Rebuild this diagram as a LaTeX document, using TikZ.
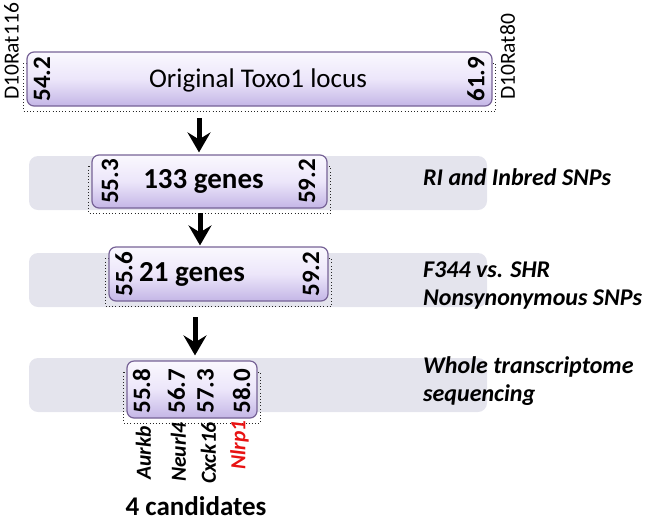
\documentclass[tikz,border=0pt]{standalone}
\usepackage{fontspec}
\setmainfont{Carlito}
\usetikzlibrary{arrows.meta}
\pgfdeclarelayer{bg}
\pgfsetlayers{bg,main}
\definecolor{bandgray}{RGB}{228,228,237}
\definecolor{boxedge}{RGB}{118,98,150}
\definecolor{boxtop}{RGB}{250,248,254}
\definecolor{boxmid}{RGB}{236,230,250}
\definecolor{boxbot}{RGB}{196,182,230}
\definecolor{genered}{RGB}{232,18,18}
\tikzset{
  bandbg/.style={fill=bandgray, rounded corners=9pt, draw=none, inner sep=0pt, minimum width=458pt, minimum height=54pt},
  locusbox/.style={draw=boxedge, line width=1.2pt, rounded corners=7pt, top color=boxtop, bottom color=boxbot, middle color=boxmid, inner sep=0pt},
  shadowdots/.style={draw=black!85, line width=1.1pt, dash pattern=on 0.8pt off 2.4pt},
  mbnum/.style={rotate=90, font=\fontsize{25}{28}\selectfont\bfseries, inner sep=0pt},
  flanker/.style={rotate=90, font=\fontsize{21.5}{24}\selectfont, inner sep=0pt, anchor=west},
  genelab/.style={rotate=90, font=\fontsize{21.5}{24}\selectfont\bfseries\itshape, inner sep=0pt, anchor=east},
  methodlab/.style={font=\fontsize{24}{29}\selectfont\bfseries\itshape, anchor=base west, inner sep=0pt},
  flowarrow/.style={-{Stealth[length=20pt,width=23pt,inset=7pt]}, line width=5pt},
}
\begin{document}
\begin{tikzpicture}[x=1pt,y=-1pt]
\useasboundingbox (0,0) rectangle (652,523);

% boxes
\node[locusbox, minimum width=465pt, minimum height=54pt] (box1) at (259.5,79) {};
\node[locusbox, minimum width=235pt, minimum height=53pt] (box2) at (209.5,181.5) {};
\node[locusbox, minimum width=219pt, minimum height=54pt] (box3) at (218.5,274) {};
\node[locusbox, minimum width=130pt, minimum height=57pt] (box4) at (192,389.5) {};

\begin{pgfonlayer}{bg}
  \node[bandbg] (band1) at (258,183) {};
  \node[bandbg] (band2) at (258,280) {};
  \node[bandbg] (band3) at (258,385) {};
  \foreach \b in {box1,box2,box3,box4}{
    \draw[shadowdots] ([xshift=-3pt,yshift=-12pt]\b.north west) rectangle ([xshift=3pt,yshift=-4.5pt]\b.south east);
  }
\end{pgfonlayer}

% box 1
\node[font=\fontsize{27}{30}\selectfont] (t1) at (258,80) {Original Toxo1 locus};
\node[mbnum] (n1a) at (42,79) {54.2};
\node[mbnum] (n1b) at (476,79) {61.9};
\node[flanker] (m1) at (11.5,100) {D10Rat116};
\node[flanker] (m2) at (507.5,100) {D10Rat80};

% box 2
\node[font=\fontsize{29}{32}\selectfont\bfseries] (t2) at (203.5,181.5) {133 genes};
\node[mbnum] (n2a) at (110,181.5) {55.3};
\node[mbnum] (n2b) at (307,181.5) {59.2};
\node[methodlab] (l1) at (423,185) {RI and Inbred SNPs};

% box 3
\node[font=\fontsize{29}{32}\selectfont\bfseries] (t3) at (192,274) {21 genes};
\node[mbnum] (n3a) at (124,274) {55.6};
\node[mbnum] (n3b) at (311,274) {59.2};
\node[methodlab] (l2a) at (423,277) {F344 vs. SHR};
\node[methodlab] (l2b) at (423,305) {Nonsynonymous SNPs};

% box 4
\node[mbnum] (n4a) at (141.5,391) {55.8};
\node[mbnum] (n4b) at (176.5,391) {56.7};
\node[mbnum] (n4c) at (205.5,391) {57.3};
\node[mbnum] (n4d) at (241.5,391) {58.0};
\node[methodlab] (l3a) at (423,373) {Whole transcriptome};
\node[methodlab] (l3b) at (423,401) {sequencing};

\node[genelab] (g1) at (143.5,426) {Aurkb};
\node[genelab] (g2) at (178.5,422) {Neurl4};
\node[genelab] (g3) at (208.5,422) {Cxck16};
\node[genelab, text=genered] (g4) at (239.5,420) {Nlrp1};

\node[font=\fontsize{27}{30}\selectfont\bfseries, anchor=base, inner sep=0pt] (cand) at (196,515) {4 candidates};

% arrows
\coordinate (a1s) at (199,118);
\coordinate (a2s) at (200,213);
\coordinate (a3s) at (195,317);
\draw[flowarrow, shorten >=2pt] (a1s) -- (a1s |- box2.north);
\draw[flowarrow, shorten >=1pt] (a2s) -- (a2s |- box3.north);
\draw[flowarrow, shorten >=5pt] (a3s) -- (a3s |- box4.north);
\end{tikzpicture}
\end{document}
